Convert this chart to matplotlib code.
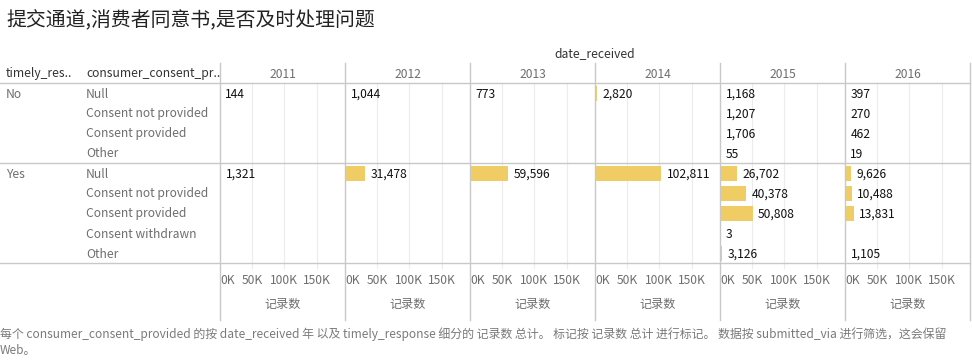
import matplotlib.pyplot as plt
from matplotlib.lines import Line2D
from matplotlib.transforms import blended_transform_factory

plt.rcParams['font.family'] = ['Noto Sans CJK SC', 'DejaVu Sans']

# ---------------------------------------------------------
# data
# ---------------------------------------------------------
years = ['2011', '2012', '2013', '2014', '2015', '2016']
consent_no = ['Null', 'Consent not provided', 'Consent provided', 'Other']
consent_yes = ['Null', 'Consent not provided', 'Consent provided',
               'Consent withdrawn', 'Other']

# rows = consent values, columns = years (None = no records)
counts_no = [
    [144, 1044, 773, 2820, 1168, 397],
    [None, None, None, None, 1207, 270],
    [None, None, None, None, 1706, 462],
    [None, None, None, None, 55, 19],
]
counts_yes = [
    [1321, 31478, 59596, 102811, 26702, 9626],
    [None, None, None, None, 40378, 10488],
    [None, None, None, None, 50808, 13831],
    [None, None, None, None, 3, None],
    [None, None, None, None, 3126, 1105],
]
tick_values = [0, 50000, 100000, 150000]
tick_labels = ['0K', '50K', '100K', '150K']

title = '提交通道,消费者同意书,是否及时处理问题'
footnote = ('每个 consumer_consent_provided 的按 date_received 年 以及 timely_response 细分的 记录数 总计。 '
            '标记按 记录数 总计 进行标记。 数据按 submitted_via 进行筛选，这会保留\nWeb。')

# ---------------------------------------------------------
# layout (pixel based, y measured from top)
# ---------------------------------------------------------
W, H = 972, 361
BAR_COLOR = '#f0cd64'
LINE = '#c8c8c8'
GRID = '#ececec'
DARK = '#333333'
GRAY = '#6e6e6e'
FS = 8.7

col_left = 220
col_w = 125
top, bottom = 83, 263
xmax = 194000


def fx(px):
    return px / W


def fy(py):
    return 1 - py / H


fig = plt.figure(figsize=(W / 100, H / 100), dpi=100)

fig.text(fx(6), fy(21), title, fontsize=14.3, color='#222222', va='center')
fig.text(fx(595), fy(54), 'date_received', fontsize=FS, color=DARK,
         ha='center', va='center', fontweight='medium')
fig.text(fx(6), fy(74), 'timely_res..', fontsize=FS, color=DARK,
         va='center', fontweight='medium')
fig.text(fx(86), fy(74), 'consumer_consent_pr..', fontsize=FS, color=DARK,
         va='center', fontweight='medium')

# row labels
rows = [('No', consent_no, counts_no), ('Yes', consent_yes, counts_yes)]
y0 = top
for resp, labels, _ in rows:
    fig.text(fx(6), fy(y0 + 11), resp, fontsize=FS, color=GRAY, va='center')
    for i, lab in enumerate(labels):
        fig.text(fx(86), fy(y0 + 11 + 20 * i), lab, fontsize=FS,
                 color=GRAY, va='center')
    y0 += 20 * len(labels)

n_rows = len(consent_no) + len(consent_yes)

for j, year in enumerate(years):
    left = col_left + col_w * j
    ax = fig.add_axes([fx(left), fy(bottom), col_w / W, (bottom - top) / H])
    ax.set_xlim(0, xmax)
    ax.set_ylim(n_rows, 0)
    ax.axis('off')

    for v in tick_values[1:]:
        ax.add_line(Line2D([v, v], [0, n_rows + 0.25], color=GRID, lw=0.8,
                           clip_on=False, zorder=0))

    offset = 0
    for _, labels, counts in rows:
        for i in range(len(labels)):
            val = counts[i][j]
            if val is None:
                continue
            yc = offset + i + 0.5
            ax.barh(yc, val, height=0.75, color=BAR_COLOR, left=0, zorder=2)
            ax.annotate(f'{val:,}', (val, yc + 0.05), xytext=(3.8, 0),
                        textcoords='offset points', va='center',
                        fontsize=FS, color='#111111', zorder=3)
        offset += len(labels)

    # year header
    fig.text(fx(left + col_w / 2), fy(74), year, fontsize=FS, color=GRAY,
             ha='center', va='center')

    # axis ticks and title
    trans = blended_transform_factory(ax.transData, fig.transFigure)
    for v, t in zip(tick_values, tick_labels):
        ha = 'left' if v == 0 else 'center'
        ax.text(v, fy(280), t, transform=trans, fontsize=FS, color=GRAY,
                ha=ha, va='center')
    fig.text(fx(left + col_w / 2), fy(304), '记录数', fontsize=FS,
             color=GRAY, ha='center', va='center')

# frame lines
for yy in [top, 163, bottom]:
    fig.add_artist(Line2D([0, fx(970)], [fy(yy), fy(yy)], color=LINE, lw=1))
for j in range(len(years) + 1):
    xx = col_left + col_w * j
    fig.add_artist(Line2D([fx(xx), fx(xx)], [fy(63), fy(320)], color=LINE, lw=1))

fig.text(fx(0), fy(327), footnote, fontsize=8.6, color='#7a7a7a', va='top',
         linespacing=1.35)

fig.savefig('out.png', dpi=100)
